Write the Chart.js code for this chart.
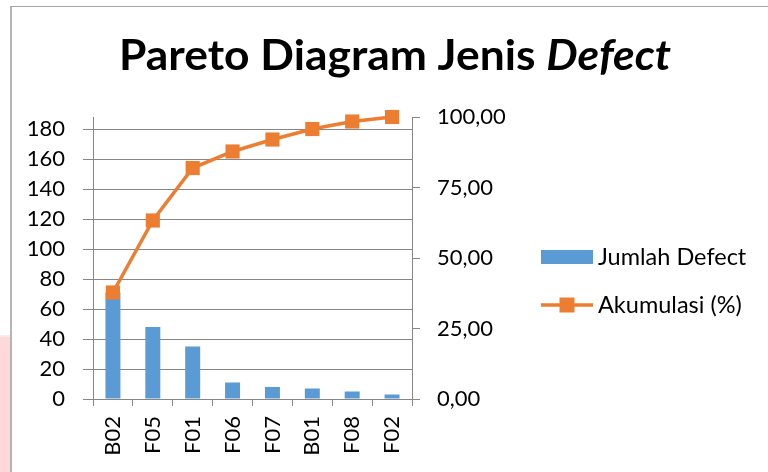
<!DOCTYPE html>
<html><head><meta charset="utf-8">
<script src="https://cdn.jsdelivr.net/npm/chart.js@4/dist/chart.umd.min.js"></script>
<style>
html,body{margin:0;padding:0;background:#fff;width:768px;height:472px;overflow:hidden;}
#pink{position:absolute;left:0;top:335px;width:10px;height:137px;background:#ffd9da;border-top:2px solid #ffe9e9;}
#frame{position:absolute;left:10px;top:6px;width:800px;height:500px;border-left:2px solid #b4b4b4;border-top:1px solid #a6a6a6;}
#wrap{position:absolute;left:0;top:0;width:768px;height:472px;}
</style></head><body>
<div id="pink"></div><div id="frame"></div>
<div id="wrap"><canvas id="c" width="768" height="472"></canvas></div>
<script>
const categories = ['B02','F05','F01','F06','F07','B01','F08','F02'];
const jumlahDefect = [71, 48, 35, 11, 8, 7, 5, 3];
const akumulasi = [37.77, 63.30, 81.91, 87.77, 92.02, 95.74, 98.40, 100.00];
const leftTicks = [0, 20, 40, 60, 80, 100, 120, 140, 160, 180];
const rightTicks = [0, 25, 50, 75, 100];
const seriesLabels = ['Jumlah Defect', 'Akumulasi (%)'];
const titleMain = 'Pareto Diagram Jenis ';
const titleItalic = 'Defect';

const totalDefect = jumlahDefect.reduce((a, b) => a + b, 0);
const AXIS = '#868686';
const FONT = 'Lato';

const titlePlugin = {
  id: 'mixedTitle',
  afterDraw(chart) {
    const ctx = chart.ctx;
    ctx.save();
    ctx.font = 'bold 42px ' + FONT;
    const w1 = ctx.measureText(titleMain).width;
    ctx.font = 'italic bold 42px ' + FONT;
    const w2 = ctx.measureText(titleItalic).width;
    const total = w1 + w2;
    const sx = 552 / total;
    ctx.translate(395, 70);
    ctx.scale(sx, 1);
    ctx.fillStyle = '#000';
    ctx.textBaseline = 'alphabetic';
    ctx.textAlign = 'left';
    ctx.font = 'bold 42px ' + FONT;
    ctx.fillText(titleMain, -total / 2, 0);
    ctx.font = 'italic bold 42px ' + FONT;
    ctx.fillText(titleItalic, -total / 2 + w1, 0);
    ctx.restore();
  }
};

const legendPlugin = {
  id: 'customLegend',
  afterDraw(chart) {
    const ctx = chart.ctx, a = chart.chartArea;
    const x0 = a.right + 129;
    const rows = [a.top + 140, a.top + 188];
    const bar = chart.data.datasets[0], line = chart.data.datasets[1];
    ctx.save();
    ctx.fillStyle = bar.backgroundColor;
    ctx.fillRect(x0, rows[0] - 7, 52, 14);
    ctx.strokeStyle = line.borderColor;
    ctx.lineWidth = 3.5;
    ctx.beginPath(); ctx.moveTo(x0, rows[1]); ctx.lineTo(x0 + 52, rows[1]); ctx.stroke();
    ctx.fillStyle = line.pointBackgroundColor;
    ctx.fillRect(x0 + 26 - 7.5, rows[1] - 7.5, 15, 15);
    ctx.fillStyle = '#000';
    ctx.font = '23.5px ' + FONT;
    ctx.textBaseline = 'alphabetic';
    ctx.textAlign = 'left';
    ctx.fillText(bar.label, x0 + 57, rows[0] + 8);
    ctx.fillText(line.label, x0 + 57, rows[1] + 8);
    ctx.restore();
  }
};

new Chart(document.getElementById('c'), {
  type: 'bar',
  data: {
    labels: categories,
    datasets: [
      {
        type: 'bar', label: seriesLabels[0], data: jumlahDefect, yAxisID: 'y',
        backgroundColor: '#5B9BD5', borderWidth: 0,
        categoryPercentage: 1, barPercentage: 0.376, order: 1
      },
      {
        type: 'line', label: seriesLabels[1], data: akumulasi, yAxisID: 'y1',
        borderColor: '#ED7D31', borderWidth: 3.5, tension: 0, clip: false,
        pointStyle: 'rect', pointRadius: 10, pointHoverRadius: 10,
        pointBackgroundColor: '#ED7D31', pointBorderWidth: 0, order: 0
      }
    ]
  },
  options: {
    responsive: false, animation: false,
    layout: { padding: { top: 117, left: 0, right: 0, bottom: 0 } },
    plugins: { legend: { display: false }, title: { display: false }, tooltip: { enabled: false } },
    scales: {
      x: {
        type: 'category', offset: true,
        grid: { display: true, drawOnChartArea: false, drawTicks: true, tickLength: 7, color: AXIS, offset: true },
        border: { display: true, color: AXIS },
        ticks: { minRotation: 90, maxRotation: 90, padding: 10, color: '#000', font: { family: FONT, size: 22 } },
        afterFit(s) { s.height = 73; }
      },
      y: {
        position: 'left', min: 0, max: totalDefect,
        afterBuildTicks(s) { s.ticks = leftTicks.map(v => ({ value: v })); },
        grid: { color: AXIS, tickLength: 10 },
        border: { display: true, color: AXIS },
        ticks: { padding: 18, color: '#000', font: { family: FONT, size: 22 } },
        afterFit(s) { s.width = 93; }
      },
      y1: {
        position: 'right', min: 0, max: 100,
        afterBuildTicks(s) { s.ticks = rightTicks.map(v => ({ value: v })); },
        grid: { drawOnChartArea: false, color: AXIS, tickLength: 8 },
        border: { display: true, color: AXIS },
        ticks: { padding: 17, color: '#000', font: { family: FONT, size: 22 },
          callback: v => Number(v).toFixed(2).replace('.', ',') },
        afterFit(s) { s.width = 356; }
      }
    }
  },
  plugins: [titlePlugin, legendPlugin]
});
</script>
</body></html>
